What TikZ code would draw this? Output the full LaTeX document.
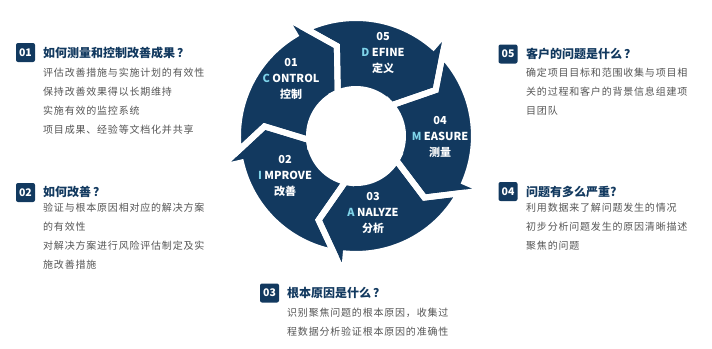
\documentclass[tikz,border=0pt]{standalone}
\usepackage{fontspec}
\setmainfont{Noto Sans CJK SC}
\newfontfamily\bodyfont[LetterSpace=8]{Noto Sans CJK SC}
\usetikzlibrary{calc}
\definecolor{navy}{HTML}{12395F}
\definecolor{accent}{HTML}{7FD4EA}
\definecolor{bodygray}{HTML}{555555}
\begin{document}
\begin{tikzpicture}[x=1pt,y=-1pt,
  badge/.style={fill=navy, rounded corners=2pt, minimum size=19pt, inner sep=0pt, text=white, font=\bfseries\fontsize{10.5}{12}\selectfont},
  titletext/.style={anchor=west, inner sep=0pt, text=navy, font=\bfseries\fontsize{12}{14}\selectfont},
  bodytext/.style={anchor=north west, inner sep=0pt, align=left, text=bodygray, font=\bodyfont\fontsize{10}{19}\selectfont},
  ringlabel/.style={align=center, inner sep=0pt, text=white, font=\bfseries\fontsize{11}{16}\selectfont},
  seg/.style={fill=navy},
  segap/.style={draw=white, line width=6pt}
]
\useasboundingbox (0,0) rectangle (712,348);
\def\Ro{118pt}\def\Rb{139pt}\def\Rt{92pt}\def\Ri{47pt}\def\Rs{43pt}
\def\ringseg{($(\aPa:\Rb)!0.416!(\aP:\Rt)$) arc[start angle=\aPs, end angle=\aTa, radius=\Ro] -- (\aTa:\Rb) -- (\aT:\Rt) -- (\aTb:\Rs) -- (\aTc:\Ri) arc[start angle=\aTc, end angle=\aPc, radius=\Ri] -- (\aPb:\Rs) -- (\aP:\Rt) -- cycle}
\begin{scope}[shift={(356,136)}]
  \foreach \k in {0,...,4}{
    \pgfmathsetmacro\aT{30-72*\k}
    \pgfmathsetmacro\aP{\aT+72}
    \pgfmathsetmacro\aTa{\aT+19}
    \pgfmathsetmacro\aTb{\aT+13}
    \pgfmathsetmacro\aTc{\aT+16}
    \pgfmathsetmacro\aPa{\aP+19}
    \pgfmathsetmacro\aPb{\aP+13}
    \pgfmathsetmacro\aPc{\aP+16}
    \pgfmathsetmacro\aPs{\aP+12.9}
    \path[seg] \ringseg;
  }
  \foreach \k in {0,...,4}{
    \pgfmathsetmacro\aT{30-72*\k}
    \pgfmathsetmacro\aP{\aT+72}
    \pgfmathsetmacro\aTa{\aT+19}
    \pgfmathsetmacro\aTb{\aT+13}
    \pgfmathsetmacro\aTc{\aT+16}
    \pgfmathsetmacro\aPa{\aP+19}
    \pgfmathsetmacro\aPb{\aP+13}
    \pgfmathsetmacro\aPc{\aP+16}
    \pgfmathsetmacro\aPs{\aP+12.9}
    \path[segap] \ringseg;
  }
\end{scope}

% ring labels
\node[ringlabel] (lc) at (291,79) {01\\{\color{accent}C} ONTROL\\控制};
\node[ringlabel] (ld) at (383,53) {05\\{\color{accent}D} EFINE\\定义};
\node[ringlabel] (lm) at (440,137) {04\\{\color{accent}M} EASURE\\测量};
\node[ringlabel] (la) at (373,213) {03\\{\color{accent}A} NALYZE\\分析};
\node[ringlabel] (li) at (285,176) {02\\{\color{accent}I} MPROVE\\改善};

% 01
\node[badge] (b1) at (25.5,52.5) {01};
\node[titletext] (t1) at (43,52.5) {如何测量和控制改善成果\hspace{2pt}？};
\node[bodytext] (d1) at (43,68) {评估改善措施与实施计划的有效性\\保持改善效果得以长期维持\\实施有效的监控系统\\项目成果、经验等文档化并共享};
% 02
\node[badge] (b2) at (25.5,192.5) {02};
\node[titletext] (t2) at (43,191.5) {如何改善\hspace{2pt}？};
\node[bodytext] (d2) at (43,203) {验证与根本原因相对应的解决方案\\的有效性\\对解决方案进行风险评估制定及实\\施改善措施};
% 03
\node[badge] (b3) at (269.5,293) {03};
\node[titletext] (t3) at (287,293) {根本原因是什么\hspace{2pt}？};
\node[bodytext] (d3) at (287,308) {识别聚焦问题的根本原因，收集过\\程数据分析验证根本原因的准确性};
% 05
\node[badge] (b5) at (508,54) {05};
\node[titletext] (t5) at (526,54) {客户的问题是什么\hspace{2pt}？};
\node[bodytext] (d5) at (526,68) {确定项目目标和范围收集与项目相\\关的过程和客户的背景信息组建项\\目团队};
% 04
\node[badge] (b4) at (508,191.5) {04};
\node[titletext] (t4) at (526,191.5) {问题有多么严重?};
\node[bodytext] (d4) at (526,203) {利用数据来了解问题发生的情况\\初步分析问题发生的原因清晰描述\\聚焦的问题};
\end{tikzpicture}
\end{document}
